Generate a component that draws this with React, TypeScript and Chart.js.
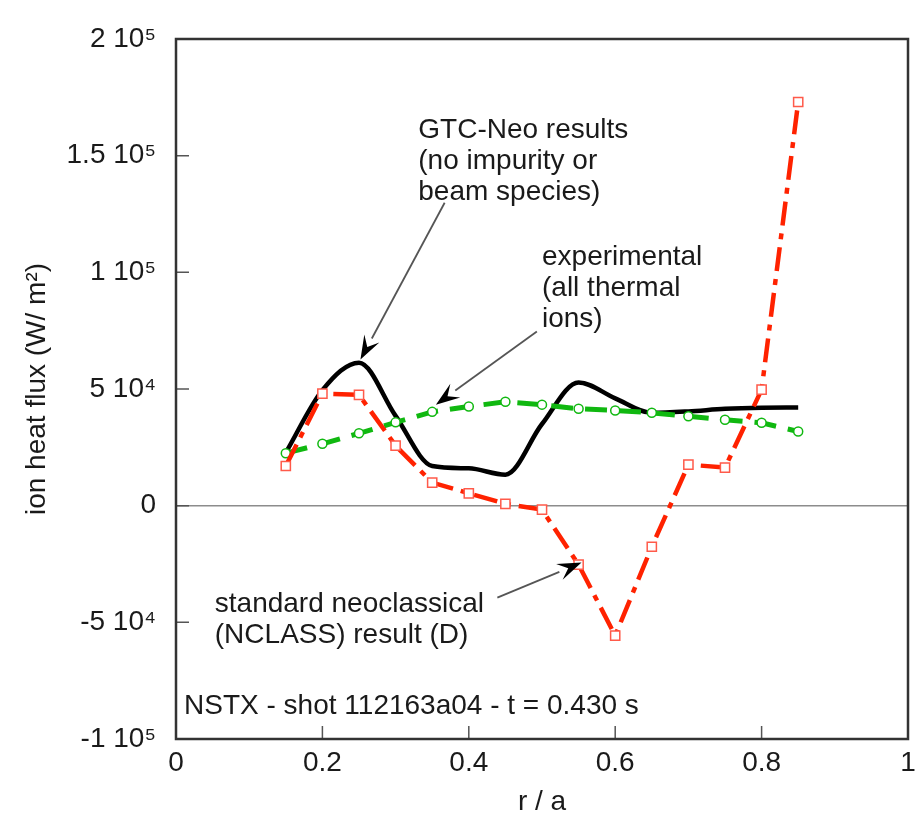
import React, { useEffect, useRef } from "react";
import { Chart, registerables } from "chart.js";

Chart.register(...registerables);

// ---- data ----
const radiusNclass = [0.15, 0.2, 0.25, 0.3, 0.35, 0.4, 0.45, 0.5, 0.55, 0.6, 0.65, 0.7, 0.75, 0.8, 0.85];
const fluxNclass = [17000, 48000, 47500, 25700, 9900, 5300, 800, -1700, -25300, -55700, -17600, 17600, 16300, 49700, 173000];

const radiusExp = [0.15, 0.2, 0.25, 0.3, 0.35, 0.4, 0.45, 0.5, 0.55, 0.6, 0.65, 0.7, 0.75, 0.8, 0.85];
const fluxExp = [22500, 26500, 31000, 35700, 40200, 42500, 44500, 43300, 41500, 40800, 39800, 38300, 36800, 35500, 31800];

const radiusGtc = [0.15, 0.2, 0.25, 0.3, 0.35, 0.4, 0.45, 0.5, 0.55, 0.6, 0.65, 0.7, 0.75, 0.8, 0.85];
const fluxGtc = [22700, 49500, 61300, 38500, 17000, 16000, 13300, 35000, 52800, 46000, 39800, 40400, 41500, 42000, 42100];

const xTickValues = [0, 0.2, 0.4, 0.6, 0.8, 1];
const xTickLabels = ["0", "0.2", "0.4", "0.6", "0.8", "1"];
const yTickValues = [-100000, -50000, 0, 50000, 100000, 150000, 200000];
const yTickLabels = ["-1 10\u2075", "-5 10\u2074", "0", "5 10\u2074", "1 10\u2075", "1.5 10\u2075", "2 10\u2075"];

const xTitle = "r / a";
const yTitle = "ion heat flux (W/ m\u00B2)";

const gtcNote = ["GTC-Neo results", "(no impurity or", "beam species)"];
const expNote = ["experimental", "(all thermal", "ions)"];
const nclassNote = ["standard neoclassical", "(NCLASS) result (D)"];
const shotNote = "NSTX - shot 112163a04 - t = 0.430 s";

const FONT = "'Liberation Sans', Arial, Helvetica, sans-serif";
const TEXT_COLOR = "#1a1a1a";

function toPoints(xs: number[], ys: number[]) {
  return xs.map((x, i) => ({ x, y: ys[i] }));
}

function drawArrow(ctx: CanvasRenderingContext2D, x0: number, y0: number, x1: number, y1: number) {
  const ang = Math.atan2(y1 - y0, x1 - x0);
  const headLen = 24;
  const headW = 8.5;
  const bx = x1 - headLen * Math.cos(ang);
  const by = y1 - headLen * Math.sin(ang);
  ctx.save();
  ctx.strokeStyle = "#555";
  ctx.lineWidth = 1.8;
  ctx.beginPath();
  ctx.moveTo(x0, y0);
  ctx.lineTo(bx, by);
  ctx.stroke();
  ctx.fillStyle = "#000";
  ctx.beginPath();
  ctx.moveTo(x1, y1);
  ctx.lineTo(bx + headW * Math.sin(ang), by - headW * Math.cos(ang));
  ctx.lineTo(bx + 0.4 * headLen * Math.cos(ang), by + 0.4 * headLen * Math.sin(ang));
  ctx.lineTo(bx - headW * Math.sin(ang), by + headW * Math.cos(ang));
  ctx.closePath();
  ctx.fill();
  ctx.restore();
}

const framePlugin = {
  id: "frameAndTicks",
  beforeDatasetsDraw(chart: any) {
    const { ctx, chartArea, scales } = chart;
    const { left, bottom } = chartArea;
    ctx.save();
    ctx.strokeStyle = "#555";
    ctx.lineWidth = 1.5;
    const tl = 13;
    ctx.beginPath();
    for (const v of yTickValues) {
      if (v === yTickValues[0] || v === yTickValues[yTickValues.length - 1]) continue;
      const py = scales.y.getPixelForValue(v);
      ctx.moveTo(left, py);
      ctx.lineTo(left + tl, py);
    }
    for (const v of xTickValues) {
      if (v === xTickValues[0] || v === xTickValues[xTickValues.length - 1]) continue;
      const px = scales.x.getPixelForValue(v);
      ctx.moveTo(px, bottom);
      ctx.lineTo(px, bottom - tl);
    }
    ctx.stroke();
    ctx.restore();
  },
  afterDraw(chart: any) {
    const { ctx, chartArea, scales } = chart;
    const { left, right, top, bottom } = chartArea;
    const sx = scales.x;
    const sy = scales.y;
    ctx.save();
    ctx.strokeStyle = "#333";
    ctx.lineWidth = 2.5;
    ctx.strokeRect(left, top, right - left, bottom - top);

    ctx.fillStyle = TEXT_COLOR;
    ctx.font = `28px ${FONT}`;
    ctx.textAlign = "left";
    ctx.textBaseline = "middle";
    const lineGap = 31;
    const writeLines = (lines: string[], r: number, v: number) => {
      const px = sx.getPixelForValue(r);
      const py = sy.getPixelForValue(v);
      lines.forEach((t, i) => ctx.fillText(t, px, py + i * lineGap));
    };
    writeLines(gtcNote, 0.331, 161000);
    writeLines(expNote, 0.5, 106300);
    writeLines(nclassNote, 0.053, -42400);
    writeLines([shotNote], 0.011, -86100);

    drawArrow(ctx, sx.getPixelForValue(0.367), sy.getPixelForValue(129800), sx.getPixelForValue(0.252), sy.getPixelForValue(62600));
    drawArrow(ctx, sx.getPixelForValue(0.493), sy.getPixelForValue(74600), sx.getPixelForValue(0.355), sy.getPixelForValue(43300));
    drawArrow(ctx, sx.getPixelForValue(0.439), sy.getPixelForValue(-39400), sx.getPixelForValue(0.554), sy.getPixelForValue(-24400));
    ctx.restore();
  },
};

export default function App() {
  const canvasRef = useRef<HTMLCanvasElement | null>(null);

  useEffect(() => {
    if (!canvasRef.current) return;
    const chart = new Chart(canvasRef.current, {
      type: "line",
      data: {
        datasets: [
          {
            label: "standard neoclassical (NCLASS)",
            data: toPoints(radiusNclass, fluxNclass),
            borderColor: "#ff2200",
            borderWidth: 4.5,
            borderDash: [24, 8, 6, 8],
            pointStyle: "rect",
            pointRadius: 6.5,
            pointBorderWidth: 1.5,
            pointBorderColor: "#ff5a4a",
            pointBackgroundColor: "#ffffff",
            tension: 0,
            fill: false,
          },
          {
            label: "experimental",
            data: toPoints(radiusExp, fluxExp),
            borderColor: "#10b810",
            borderWidth: 5,
            borderDash: [22, 12],
            pointStyle: "circle",
            pointRadius: 4.5,
            pointBorderWidth: 1.5,
            pointBorderColor: "#10b810",
            pointBackgroundColor: "#ffffff",
            tension: 0,
            fill: false,
          },
          {
            label: "GTC-Neo",
            data: toPoints(radiusGtc, fluxGtc),
            borderColor: "#000000",
            borderWidth: 4.5,
            pointRadius: 0,
            cubicInterpolationMode: "monotone",
            fill: false,
          },
        ],
      },
      options: {
        animation: false,
        responsive: false,
        maintainAspectRatio: false,
        devicePixelRatio: 1,
        layout: { padding: { top: 39, right: 2, left: 0, bottom: 0 } },
        plugins: {
          legend: { display: false },
          tooltip: { enabled: false },
        },
        scales: {
          x: {
            type: "linear",
            min: 0,
            max: 1,
            border: { display: false },
            grid: { display: false, drawTicks: false },
            ticks: {
              stepSize: 0.2,
              padding: 7,
              color: TEXT_COLOR,
              font: { family: FONT, size: 28 },
              maxRotation: 0,
              callback: (value: any) => {
                const i = xTickValues.findIndex((t) => Math.abs(t - Number(value)) < 1e-9);
                return i >= 0 ? xTickLabels[i] : "";
              },
            },
            title: {
              display: true,
              text: xTitle,
              color: TEXT_COLOR,
              font: { family: FONT, size: 28 },
              padding: { top: 0, bottom: 0 },
            },
            afterFit: (scale: any) => {
              scale.height = 80;
              scale.paddingLeft = 0;
              scale.paddingRight = 0;
            },
          },
          y: {
            type: "linear",
            min: -100000,
            max: 200000,
            border: { display: false },
            grid: {
              drawTicks: false,
              lineWidth: 1.5,
              color: (c: any) => (c.tick && c.tick.value === 0 ? "#8c8c8c" : "rgba(0,0,0,0)"),
            },
            ticks: {
              stepSize: 50000,
              padding: 20,
              color: TEXT_COLOR,
              font: { family: FONT, size: 28 },
              callback: (value: any) => {
                const i = yTickValues.findIndex((t) => Math.abs(t - Number(value)) < 1e-6);
                return i >= 0 ? yTickLabels[i] : "";
              },
            },
            title: {
              display: true,
              text: yTitle,
              color: TEXT_COLOR,
              font: { family: FONT, size: 28 },
              padding: { top: 20, bottom: 0 },
            },
            afterFit: (scale: any) => {
              scale.width = 176;
              scale.paddingTop = 0;
              scale.paddingBottom = 0;
            },
          },
        },
      },
      plugins: [framePlugin],
    });
    return () => chart.destroy();
  }, []);

  return (
    <div style={{ position: "absolute", left: 0, top: 0, width: 916, height: 819, background: "#fff" }}>
      <canvas ref={canvasRef} width={916} height={819} />
    </div>
  );
}
